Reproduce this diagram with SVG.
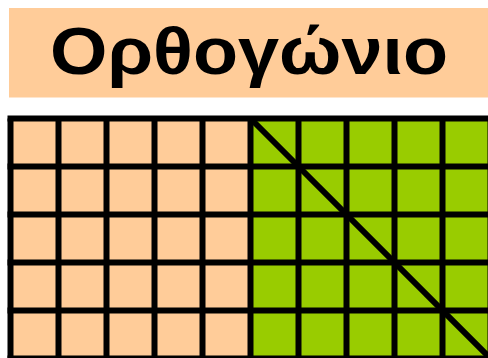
<svg xmlns="http://www.w3.org/2000/svg" width="488" height="358" viewBox="0 0 488 358">
<style>
.peach{fill:#FFCC99}
.green{fill:#99CC00}
.ln{stroke:#000;stroke-width:6;fill:none}
.title{font-family:"Liberation Sans",Arial,sans-serif;font-weight:bold;font-size:66px;fill:#000}
</style>
<rect width="488" height="358" fill="#fff"/>
<g id="title">
<rect class="peach" x="9" y="8" width="480" height="89.5"/>
<text class="title" x="50" y="74" textLength="398" lengthAdjust="spacingAndGlyphs">Ορθογώνιο</text>
</g>
<g id="grid">
<rect class="peach" x="10.5" y="118.5" width="240" height="245"/>
<rect class="green" x="250.5" y="118.5" width="245" height="245"/>
</g>
<g id="lines" class="ln">
<path d="M10.5 118.5V364M58.5 118.5V364M106.5 118.5V364M154.5 118.5V364M202.5 118.5V364M250.5 118.5V364M298.5 118.5V364M346.5 118.5V364M394.5 118.5V364M442.5 118.5V364M490.5 118.5V364"/>
<path d="M7.5 118.5H492M7.5 166.5H492M7.5 214.5H492M7.5 262.5H492M7.5 310.5H492M7.5 358.5H492"/>
<path d="M250.5 118.5L492 360"/>
</g>
</svg>
